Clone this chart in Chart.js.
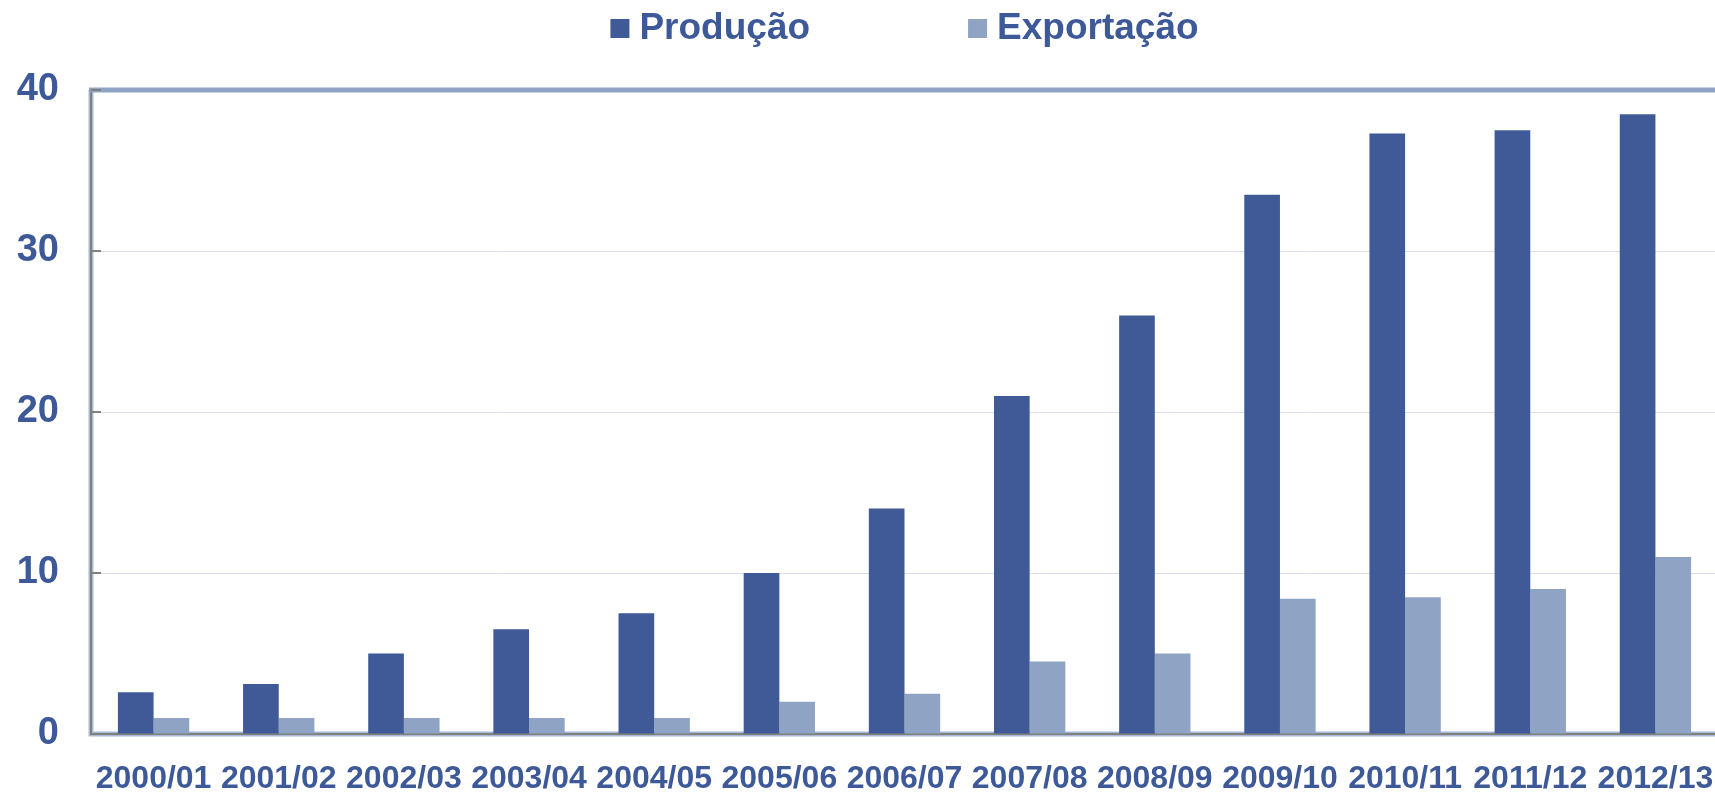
<!DOCTYPE html>
<html>
<head>
<meta charset="utf-8">
<script src="https://cdn.jsdelivr.net/npm/chart.js@4"></script>
<style>
  html, body { margin: 0; padding: 0; background: #fff; overflow: hidden; }
  #wrap { width: 1720px; height: 800px; }
</style>
</head>
<body>
<div id="wrap"><canvas id="chart"></canvas></div>
<script>
const safras = ['2000/01', '2001/02', '2002/03', '2003/04', '2004/05', '2005/06', '2006/07',
                '2007/08', '2008/09', '2009/10', '2010/11', '2011/12', '2012/13'];
const producao = [2.6, 3.1, 5.0, 6.5, 7.5, 10.0, 14.0, 21.0, 26.0, 33.5, 37.3, 37.5, 38.5];
const exportacao = [1.0, 1.0, 1.0, 1.0, 1.0, 2.0, 2.5, 4.5, 5.0, 8.4, 8.5, 9.0, 11.0];
const yTicks = [0, 10, 20, 30, 40];

const textColor = '#3d5998';
const darkBlue = '#3f5a96';
const lightBlue = '#8fa3c5';
const fontFamily = '"Liberation Sans", Arial, sans-serif';

// legend row drawn centred over the plot area, plus the frame lines and inner ticks
const framePlugin = {
    id: 'frame',
    beforeDraw(chart) {
        // soft blue halo under the gray axis lines
        const ctx = chart.ctx;
        const area = chart.chartArea;
        ctx.save();
        ctx.strokeStyle = '#a9b8d3';
        ctx.lineWidth = 5;
        ctx.beginPath();
        ctx.moveTo(area.left, area.top);
        ctx.lineTo(area.left, area.bottom);
        ctx.lineTo(area.right + 4, area.bottom);
        ctx.stroke();
        ctx.restore();
    },
    afterDraw(chart) {
        const ctx = chart.ctx;
        const area = chart.chartArea;
        const yScale = chart.scales.y;

        ctx.save();
        ctx.strokeStyle = lightBlue;
        ctx.lineWidth = 5;
        ctx.beginPath();
        ctx.moveTo(area.left - 2, area.top);
        ctx.lineTo(area.right + 4, area.top);
        ctx.stroke();

        ctx.strokeStyle = '#808080';
        ctx.lineWidth = 2;
        yTicks.filter(v => v > 0).forEach(v => {
            const py = Math.round(yScale.getPixelForValue(v));
            ctx.beginPath();
            ctx.moveTo(area.left, py);
            ctx.lineTo(area.left + 10, py);
            ctx.stroke();
        });

        ctx.font = 'bold 37px ' + fontFamily;
        ctx.textBaseline = 'alphabetic';
        const items = chart.data.datasets.map(ds => ({
            text: ds.label, color: ds.backgroundColor, w: ctx.measureText(ds.label).width
        }));
        const box = 19, gap = 10, spacing = 158;
        let total = 0;
        items.forEach((it, i) => { total += box + gap + it.w + (i ? spacing : 0); });
        let x = (area.left + area.right) / 2 - total / 2;
        items.forEach(it => {
            ctx.fillStyle = it.color;
            ctx.fillRect(x, 19, box, box);
            ctx.fillStyle = textColor;
            ctx.fillText(it.text, x + box + gap, 39);
            x += box + gap + it.w + spacing;
        });
        ctx.restore();
    }
};

new Chart(document.getElementById('chart'), {
    type: 'bar',
    data: {
        labels: safras,
        datasets: [
            { label: 'Produção', data: producao, backgroundColor: darkBlue },
            { label: 'Exportação', data: exportacao, backgroundColor: lightBlue }
        ]
    },
    options: {
        responsive: true,
        maintainAspectRatio: false,
        animation: false,
        layout: { padding: { top: 90, left: 0, right: 2, bottom: 0 } },
        datasets: { bar: { categoryPercentage: 0.57, barPercentage: 1.0 } },
        plugins: {
            legend: { display: false },
            tooltip: { enabled: false }
        },
        scales: {
            x: {
                grid: { display: true, drawOnChartArea: false, drawTicks: true, tickLength: 26, color: 'rgba(0,0,0,0)' },
                border: { color: '#808080', width: 2 },
                ticks: {
                    color: textColor,
                    font: { family: fontFamily, size: 32, weight: 'bold' },
                    padding: 0,
                    maxRotation: 0,
                    autoSkip: false
                },
                afterFit(scale) { scale.height = 66; }
            },
            y: {
                min: 0,
                max: 40,
                afterBuildTicks(scale) { scale.ticks = yTicks.map(v => ({ value: v })); },
                grid: {
                    drawTicks: false,
                    lineWidth: 1,
                    color: ctx => (ctx.tick && (ctx.tick.value === 0 || ctx.tick.value === 40)) ? 'rgba(0,0,0,0)' : '#d9ddec'
                },
                border: { color: '#808080', width: 2 },
                ticks: {
                    color: textColor,
                    font: { family: fontFamily, size: 38, weight: 'bold' },
                    padding: 32
                },
                afterFit(scale) { scale.width = 91; }
            }
        }
    },
    plugins: [framePlugin]
});
</script>
</body>
</html>
